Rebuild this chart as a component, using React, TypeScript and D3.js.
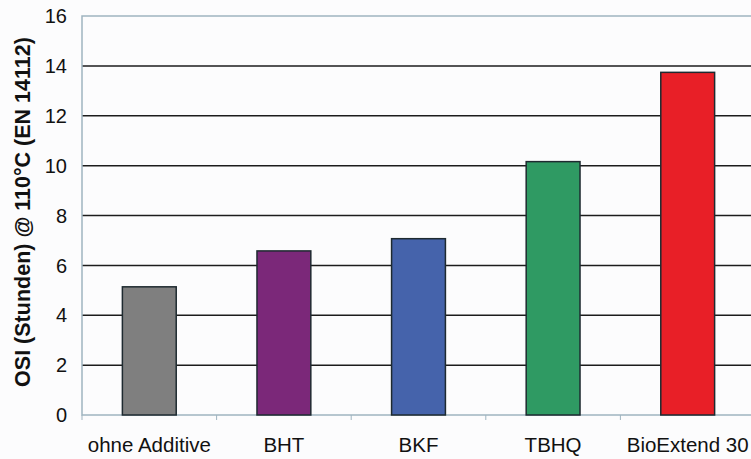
import { useEffect, useRef } from "react";
import * as d3 from "d3";

const categories = ["ohne Additive", "BHT", "BKF", "TBHQ", "BioExtend 30"];
const values = [5.14, 6.58, 7.07, 10.16, 13.74];
const colors = ["#7f7f7f", "#7b2879", "#4563ab", "#2f9a63", "#e81f27"];
const yTicks = [0, 2, 4, 6, 8, 10, 12, 14, 16];
const yTitle = "OSI (Stunden) @ 110°C (EN 14112)";

const App = () => {
  const svgRef = useRef(null);

  useEffect(() => {
    const W = 751;
    const H = 459;
    const margin = { top: 16, right: -4, bottom: 44, left: 82 };
    const width = W - margin.left - margin.right;
    const height = H - margin.top - margin.bottom;

    d3.select(svgRef.current).selectAll("*").remove();

    const root = d3
      .select(svgRef.current)
      .attr("width", W)
      .attr("height", H)
      .style("display", "block")
      .style("background", "#fcfcfd");

    const svg = root
      .append("g")
      .attr("transform", `translate(${margin.left},${margin.top})`);

    const x = d3.scaleBand().domain(categories).range([0, width]).paddingInner(0.6).paddingOuter(0.3);
    const step = width / categories.length;
    const y = d3.scaleLinear().domain([0, 16]).range([height, 0]);

    // сетка
    svg
      .selectAll("line.grid")
      .data(yTicks.filter((t) => t > 0 && t < 16))
      .enter()
      .append("line")
      .attr("class", "grid")
      .attr("x1", 0)
      .attr("x2", width)
      .attr("y1", (d) => y(d))
      .attr("y2", (d) => y(d))
      .attr("stroke", "#1c1c1c")
      .attr("stroke-width", 1.5);

    // рамка
    svg
      .append("path")
      .attr("d", `M${width},0H0V${height}H${width}`)
      .attr("fill", "none")
      .attr("stroke", "#9fb4c0")
      .attr("stroke-width", 1.5);

    // отметки оси X между категориями
    svg
      .selectAll("line.xtick")
      .data(d3.range(categories.length + 1))
      .enter()
      .append("line")
      .attr("x1", (i) => i * step)
      .attr("x2", (i) => i * step)
      .attr("y1", height)
      .attr("y2", height + 5)
      .attr("stroke", "#9fb4c0")
      .attr("stroke-width", 1);

    // столбцы
    svg
      .selectAll("rect.bar")
      .data(values)
      .enter()
      .append("rect")
      .attr("class", "bar")
      .attr("x", (d, i) => x(categories[i]))
      .attr("y", (d) => y(d))
      .attr("width", x.bandwidth())
      .attr("height", (d) => height - y(d))
      .attr("fill", (d, i) => colors[i])
      .attr("stroke", "#1e2a30")
      .attr("stroke-width", 1.5);

    // подписи оси Y
    svg
      .selectAll("text.ytick")
      .data(yTicks)
      .enter()
      .append("text")
      .attr("x", -15)
      .attr("y", (d) => y(d))
      .attr("dy", "0.36em")
      .attr("text-anchor", "end")
      .attr("font-family", "Liberation Sans, Arial, sans-serif")
      .attr("font-size", 20)
      .attr("fill", "#111")
      .text((d) => d);

    // подписи оси X
    svg
      .selectAll("text.xlab")
      .data(categories)
      .enter()
      .append("text")
      .attr("x", (d) => x(d) + x.bandwidth() / 2)
      .attr("y", height + 37)
      .attr("text-anchor", "middle")
      .attr("font-family", "Liberation Sans, Arial, sans-serif")
      .attr("font-size", 20.5)
      .attr("fill", "#111")
      .text((d) => d);

    // заголовок оси Y
    root
      .append("text")
      .attr("transform", `translate(30,212) rotate(-90)`)
      .attr("text-anchor", "middle")
      .attr("font-family", "Liberation Sans, Arial, sans-serif")
      .attr("font-size", 21.5)
      .attr("font-weight", "bold")
      .attr("fill", "#111")
      .text(yTitle);
  }, []);

  return (
    <div style={{ position: "fixed", left: 0, top: 0 }}>
      <svg ref={svgRef}></svg>
    </div>
  );
};

export default App;
